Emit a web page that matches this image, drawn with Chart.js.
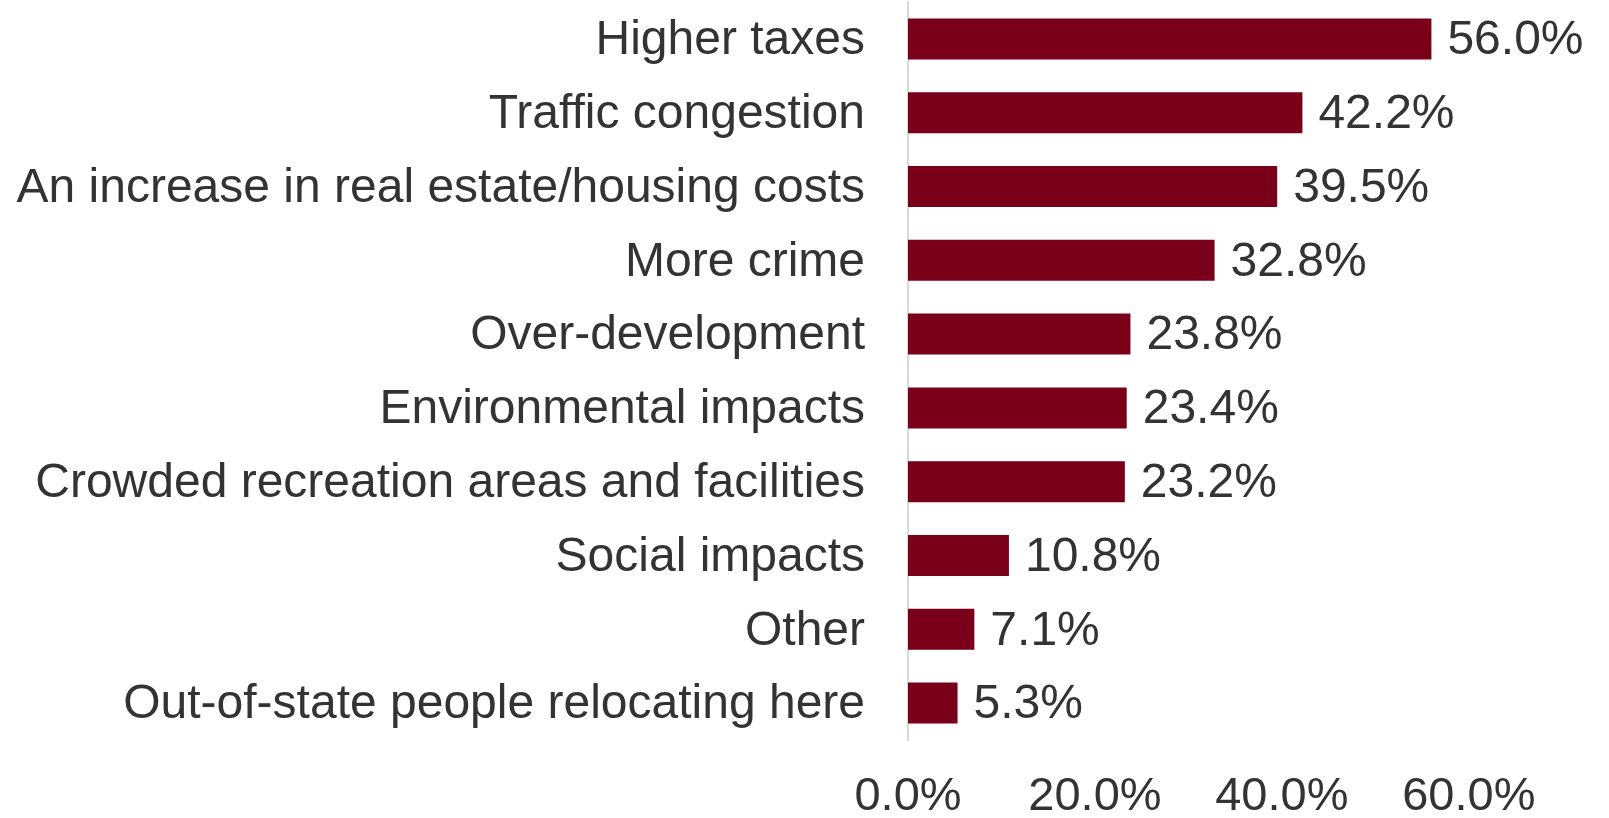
<!DOCTYPE html>
<html>
<head>
<meta charset="utf-8">
<script src="https://cdn.jsdelivr.net/npm/chart.js@4"></script>
<style>
  html, body { margin: 0; padding: 0; background: #fff; }
  #wrap { width: 1609px; height: 818px; position: relative; }
</style>
</head>
<body>
<div id="wrap"><canvas id="chart"></canvas></div>
<script>
'use strict';

let categories = [
  'Higher taxes',
  'Traffic congestion',
  'An increase in real estate/housing costs',
  'More crime',
  'Over-development',
  'Environmental impacts',
  'Crowded recreation areas and facilities',
  'Social impacts',
  'Other',
  'Out-of-state people relocating here'
];
let percents = [56.0, 42.2, 39.5, 32.8, 23.8, 23.4, 23.2, 10.8, 7.1, 5.3];
let tickValues = [0, 20, 40, 60];

let textColor = '#333333';
let fontFamily = '"Liberation Sans", Arial, sans-serif';

// writes the value next to the end of each bar
let valueLabels = {
  id: 'valueLabels',
  afterDatasetsDraw(chart) {
    let ctx = chart.ctx;
    let meta = chart.getDatasetMeta(0);
    ctx.save();
    ctx.font = '48px ' + fontFamily;
    ctx.fillStyle = textColor;
    ctx.textAlign = 'left';
    ctx.textBaseline = 'middle';
    meta.data.forEach(function (bar, i) {
      ctx.fillText(percents[i].toFixed(1) + '%', bar.x + 16, bar.y + 2);
    });
    ctx.restore();
  }
};

// keep the axes from reserving room for overhanging labels
function noOverhang(scale) {
  scale.paddingTop = 0;
  scale.paddingBottom = 0;
  scale.paddingLeft = 0;
  scale.paddingRight = 0;
}

let canvasElem = document.getElementById('chart');

new Chart(canvasElem, {
  type: 'bar',
  data: {
    labels: categories,
    datasets: [{
      data: percents,
      backgroundColor: '#7a0019',
      borderWidth: 0,
      categoryPercentage: 1,
      barPercentage: 0.556
    }]
  },
  options: {
    indexAxis: 'y',
    responsive: true,
    maintainAspectRatio: false,
    animation: false,
    layout: { autoPadding: false, padding: { top: 2, left: 0, right: 0, bottom: 0 } },
    plugins: {
      legend: { display: false },
      tooltip: { enabled: false }
    },
    scales: {
      x: {
        min: 0,
        max: 75,
        grid: { display: false, drawTicks: false },
        border: { display: false },
        afterBuildTicks: function (scale) {
          scale.ticks = tickValues.map(function (v) { return { value: v }; });
        },
        afterFit: function (scale) {
          scale.height = 78;
          noOverhang(scale);
        },
        ticks: {
          padding: 29,
          color: textColor,
          font: { family: fontFamily, size: 47 },
          callback: function (v) { return Number(v).toFixed(1) + '%'; }
        }
      },
      y: {
        grid: { display: false, drawTicks: false },
        border: { display: true, color: '#d9d9d9', width: 2 },
        afterFit: function (scale) {
          scale.width = 908;
          noOverhang(scale);
        },
        ticks: {
          padding: 43,
          labelOffset: 2,
          color: textColor,
          font: { family: fontFamily, size: 48 }
        }
      }
    }
  },
  plugins: [valueLabels]
});
</script>
</body>
</html>
